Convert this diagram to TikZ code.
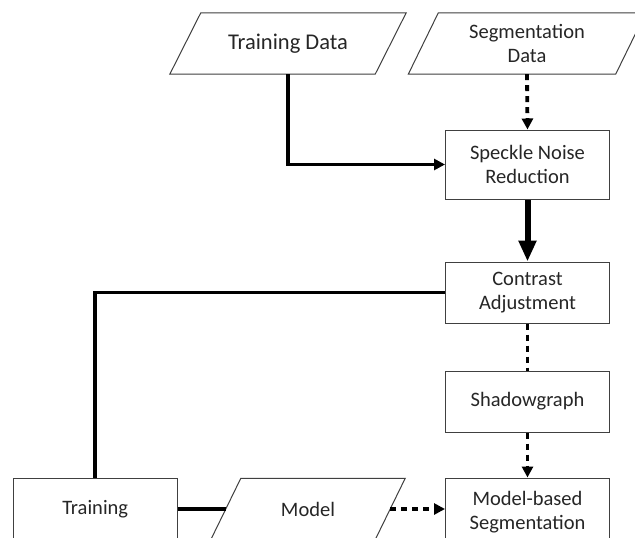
\documentclass[tikz,border=0pt]{standalone}
\usepackage{fontspec}
\setmainfont{Carlito}
\usetikzlibrary{arrows.meta}
\newcommand{\paradraw}[2]{\draw[border] ([xshift=-#2]#1.south west) -- ([xshift=#2]#1.north west) -- ([xshift=#2]#1.north east) -- ([xshift=-#2]#1.south east) -- cycle;}
\begin{document}
\begin{tikzpicture}[x=1pt,y=-1pt,
  every node/.style={font=\fontsize{20.5}{24}\selectfont, text=black!85, align=center, inner sep=0pt},
  border/.style={draw=black!75, line width=1pt},
  procbox/.style={border, rectangle, minimum width=164pt},
  iobox/.style={rectangle, minimum height=61pt},
  thick line/.style={line width=3.5pt, draw=black},
  dash line/.style={line width=3.8pt, draw=black, dash pattern=on 6pt off 5pt},
  smalltip/.style={-{Triangle[length=11pt,width=11pt]}},
  bigtip/.style={-{Triangle[length=21pt,width=17pt]}}]
\useasboundingbox (0,0) rectangle (635,538);
\clip (0,0) rectangle (635,538);
\fill[white] (0,0) rectangle (635,538);
% nodes
\node[iobox, minimum width=205pt, font=\fontsize{22.5}{26}\selectfont] (td) at (288,43.5) {Training Data};
\node[iobox, minimum width=207pt] (sd) at (527,43.5) {Segmentation\\Data};
\node[iobox, minimum width=164pt] (mo) at (308,509) {Model};
\paradraw{td}{15.5pt}
\paradraw{sd}{15pt}
\paradraw{mo}{15pt}
\node[procbox, minimum height=69pt] (snr) at (527.5,164.5) {Speckle Noise\\Reduction};
\node[procbox, minimum height=61pt] (ca) at (527.5,292.5) {Contrast\\Adjustment};
\node[procbox, minimum height=61pt] (sg) at (527.5,401.5) {Shadowgraph};
\node[procbox, minimum height=68pt] (mbs) at (527.5,512) {Model-based\\Segmentation};
\node[procbox, minimum height=62pt] (tr) at (95.2,509) {Training};
% connectors
\draw[thick line, smalltip] (td.south) |- (snr.west);
\draw[dash line, smalltip] (sd.south) -- (snr.north);
\draw[line width=6pt, bigtip] (snr.south) -- (ca.north);
\draw[dash line] (ca.south) -- (sg.north);
\draw[dash line, smalltip] (sg.south) -- (mbs.north);
\draw[thick line] (ca.west) -| (tr.north);
\draw[thick line] (tr.east) -- (mo.west);
\draw[dash line, smalltip] (mo.east) -- (mo.east -| mbs.west);
\end{tikzpicture}
\end{document}
